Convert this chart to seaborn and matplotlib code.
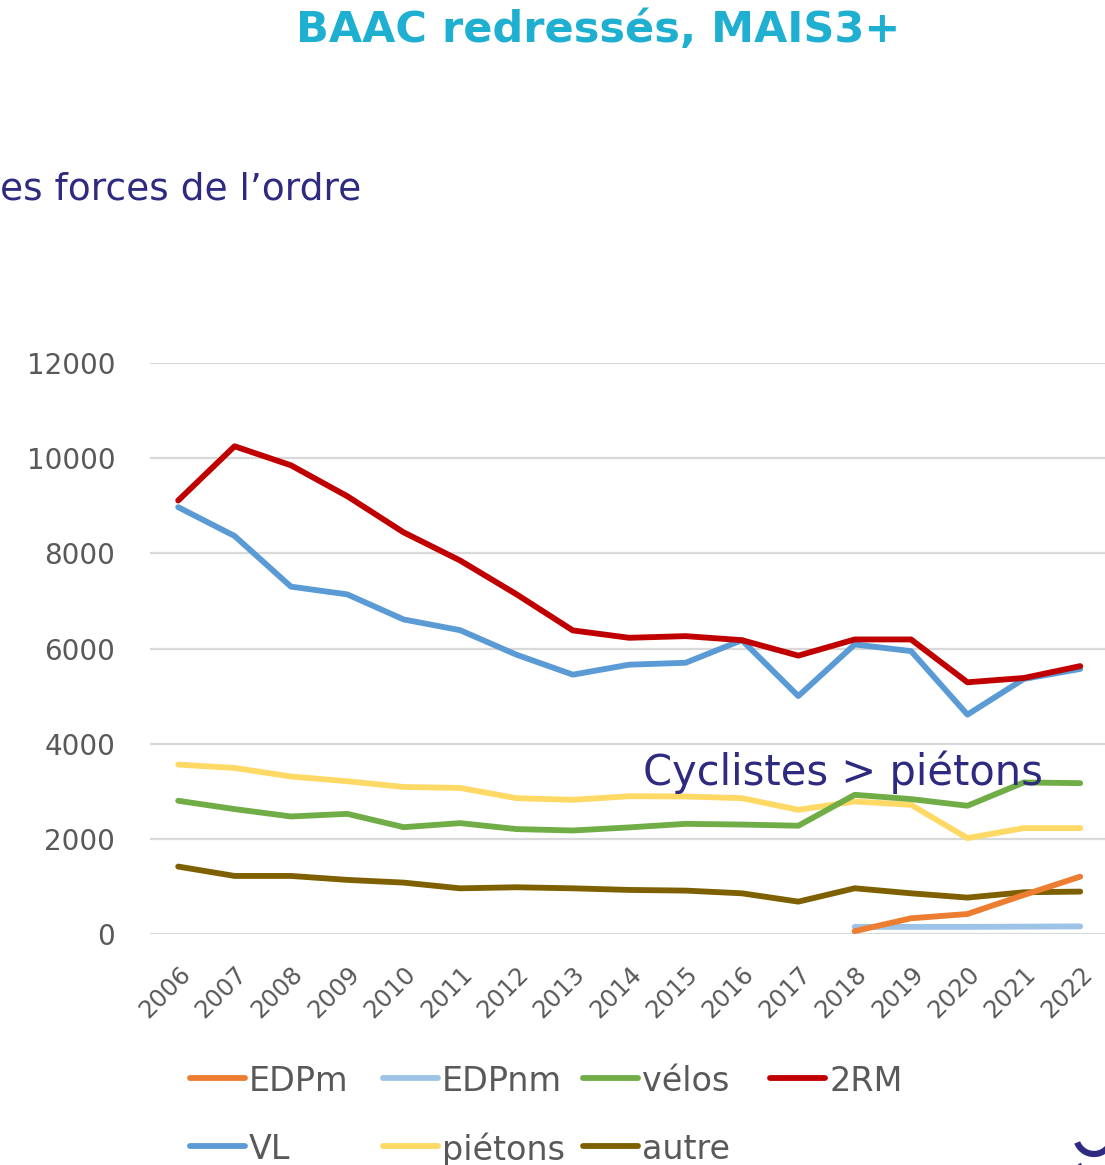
import numpy as np
import pandas as pd
import matplotlib
matplotlib.use("Agg")
import matplotlib.pyplot as plt
from matplotlib.lines import Line2D
from matplotlib.patches import Arc
import seaborn as sns

# ----------- DONNÉES ------------------------------------
annees = list(range(2006, 2023))

edpm = [np.nan] * 12 + [60, 330, 420, 820, 1205]
edpnm = [np.nan] * 12 + [150, 150, 150, 155, 160]
velos = [2800, 2625, 2470, 2525, 2245, 2330, 2205, 2175, 2240,
         2315, 2300, 2275, 2925, 2835, 2695, 3185, 3170]
deux_rm = [9110, 10250, 9850, 9200, 8440, 7850, 7140, 6380, 6225,
           6260, 6175, 5850, 6190, 6190, 5290, 5380, 5630]
vl = [8970, 8365, 7300, 7137, 6610, 6385, 5870, 5450, 5660,
      5700, 6175, 5000, 6085, 5945, 4610, 5360, 5570]
pietons = [3560, 3490, 3310, 3210, 3090, 3070, 2855, 2820, 2895,
           2890, 2855, 2610, 2785, 2715, 2015, 2225, 2225]
autre = [1417, 1220, 1220, 1137, 1080, 960, 982, 960, 926,
         912, 855, 680, 961, 855, 765, 877, 891]

series = {
    'EDPm': edpm,
    'EDPnm': edpnm,
    'vélos': velos,
    '2RM': deux_rm,
    'VL': vl,
    'piétons': pietons,
    'autre': autre,
}
couleurs = {
    'EDPm': '#ED7D31',
    'EDPnm': '#9DC3E6',
    'vélos': '#70AD47',
    '2RM': '#C00000',
    'VL': '#5B9BD5',
    'piétons': '#FFD966',
    'autre': '#7F6000',
}

# tableau long pour seaborn
df = pd.DataFrame([
    {'annee': a, 'serie': nom, 'valeur': v}
    for nom, vals in series.items() for a, v in zip(annees, vals)
]).dropna()

# ----------- TRACÉ -------------
sns.set_theme(style="white")
plt.rcParams['font.family'] = ['DejaVu Sans']

W, H = 1105, 1165
fig = plt.figure(figsize=(W / 100, H / 100), dpi=100)
ax = fig.add_axes([150 / W, 231 / H, 955 / W, 571 / H])

ordre_trace = ['autre', 'piétons', 'vélos', 'VL', '2RM', 'EDPnm', 'EDPm']
sns.lineplot(data=df, x='annee', y='valeur', hue='serie', hue_order=ordre_trace,
             palette=couleurs, linewidth=4.2, ax=ax, legend=False,
             solid_capstyle='round')

ax.set_xlim(2005.5, 2022.44)
ax.set_ylim(0, 12000)
ax.set_yticks(range(0, 12001, 2000))
ax.set_xticks(annees)
ax.set_xticklabels([str(a) for a in annees], rotation=45, ha='right',
                   rotation_mode='anchor')
ax.tick_params(axis='y', labelsize=20, colors='#595959', pad=25, length=0)
ax.tick_params(axis='x', labelsize=17.5, colors='#595959', pad=20, length=0)
ax.set_xlabel('')
ax.set_ylabel('')
ax.grid(axis='y', color='#D9D9D9', linewidth=1.6)
ax.set_axisbelow(True)
for s in ax.spines.values():
    s.set_visible(False)

# légende (placement façon Excel, colonnes de largeur fixe)
legende = [('EDPm', 190, 1078), ('EDPnm', 383, 1078), ('vélos', 583, 1078),
           ('2RM', 770, 1078), ('VL', 190, 1146), ('piétons', 383, 1146),
           ('autre', 583, 1146)]
for nom, x0, y0 in legende:
    fig.add_artist(Line2D([x0 / W, (x0 + 55) / W], [1 - y0 / H, 1 - y0 / H],
                          color=couleurs[nom], linewidth=4.2,
                          solid_capstyle='round', transform=fig.transFigure))
    fig.text((x0 + 59) / W, 1 - y0 / H, nom, ha='left', va='center_baseline',
             fontsize=24, color='#595959')

# textes
fig.text(598 / W, 1 - 30 / H, 'BAAC redressés, MAIS3+', ha='center',
         va='center', fontsize=31, fontweight='bold', color='#1FAFD0')
fig.text(0, 1 - 190 / H, 'es forces de l\u2019ordre', ha='left',
         va='center', fontsize=27, color='#2E2A80')
fig.text(643 / W, 1 - 772 / H, 'Cyclistes > piétons', ha='left',
         va='center', fontsize=30, color='#2E2A80')

# bout de logo en bas à droite
fig.add_artist(Arc((1094 / W, 1 - 1136 / H), 36 / W, 36 / H, theta1=200,
                   theta2=360, color='#2E2A80', linewidth=4.5,
                   transform=fig.transFigure))
fig.add_artist(Arc((1100 / W, 1 - 1192 / H), 64 / W, 64 / H, theta1=125,
                   theta2=180, color='#2E2A80', linewidth=4.5,
                   transform=fig.transFigure))

fig.savefig('out.png', dpi=100)
